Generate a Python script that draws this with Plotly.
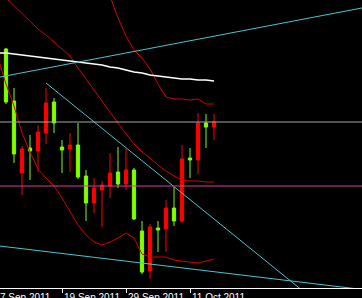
import numpy as np
import plotly.graph_objects as go

# ---- data (price scale is arbitrary) ----
dates = ["7 Sep", "8 Sep", "9 Sep", "12 Sep", "13 Sep", "14 Sep", "15 Sep", "16 Sep",
         "19 Sep", "20 Sep", "21 Sep", "22 Sep", "23 Sep", "26 Sep", "27 Sep", "28 Sep",
         "29 Sep", "30 Sep", "3 Oct", "4 Oct", "5 Oct", "6 Oct", "7 Oct", "10 Oct",
         "11 Oct", "12 Oct", "13 Oct", "14 Oct"]
opens = [1330, 1351, 1299, 1227, 1252, 1249, 1267, 1298, 1253, 1251, 1255, 1224, 1197, 1210,
         1214, 1228, 1216, 1230, 1169, 1129, 1172, 1171, 1192, 1179, 1242, 1240, 1277, 1273]
highs = [1354, 1352, 1312, 1254, 1265, 1275, 1312, 1302, 1260, 1267, 1277, 1230, 1222, 1219,
         1247, 1253, 1251, 1232, 1179, 1176, 1179, 1200, 1213, 1255, 1252, 1287, 1286, 1286]
lows = [1326, 1296, 1237, 1205, 1220, 1228, 1256, 1267, 1227, 1228, 1221, 1179, 1187, 1173,
        1202, 1212, 1210, 1180, 1126, 1121, 1148, 1148, 1174, 1177, 1222, 1226, 1252, 1260]
closes = [1350, 1298, 1246, 1251, 1249, 1268, 1297, 1277, 1250, 1255, 1223, 1197, 1212, 1215,
          1227, 1216, 1230, 1181, 1128, 1173, 1170, 1192, 1179, 1241, 1240, 1277, 1273, 1278]

bb_mid = [1410, 1402, 1394, 1386, 1378, 1371, 1365, 1358, 1351, 1344, 1332, 1321, 1309, 1298,
          1287, 1276, 1266, 1256, 1248, 1242, 1235, 1229, 1224, 1220, 1219, 1219, 1218, 1218]
bb_low = [1342, 1316, 1294, 1267, 1248, 1231, 1222, 1214, 1202, 1188, 1175, 1165, 1158, 1155,
          1158, 1162, 1167, 1162, 1146, 1143, 1143, 1143, 1140, 1139, 1138, 1137, 1139, 1141]
bb_up_start = 12
bb_up = [1440, 1422, 1404, 1382, 1364, 1350, 1342, 1331, 1316, 1303, 1301, 1301, 1300, 1301,
         1296, 1296]
ma_long = [1347, 1347, 1346, 1345, 1344, 1343, 1342, 1341, 1340, 1339, 1338, 1337, 1336, 1335,
           1333, 1332, 1330, 1328, 1327, 1325, 1324, 1323, 1322, 1321, 1321, 1320, 1320, 1319]

# trendline anchors: (bar index, price)
trend_rise = ([0, 27], [1322.6, 1363.8])
trend_fall = ([6, 27], [1317.0, 1181.0])
trend_low = ([0, 27], [1154.2, 1128.3])
hline_gray = 1278
hline_pink = 1214

tick_idx = [0, 8, 16, 24]
tick_labels = ["7 Sep 2011", "19 Sep 2011", "29 Sep 2011", "11 Oct 2011"]

# ---- figure ----
idx = list(range(len(dates)))
X_MIN, X_MAX = 0.25, 45.5

fig = go.Figure()
fig.add_trace(go.Candlestick(
    x=idx, open=opens, high=highs, low=lows, close=closes,
    increasing=dict(line=dict(color="#ff0000", width=1), fillcolor="#ff0000"),
    decreasing=dict(line=dict(color="#7fff00", width=1), fillcolor="#7fff00"),
    whiskerwidth=0, showlegend=False, hoverinfo="skip"))

band_color = "#d40000"
fig.add_trace(go.Scatter(x=idx, y=bb_mid, mode="lines",
                         line=dict(color=band_color, width=1), showlegend=False, hoverinfo="skip"))
fig.add_trace(go.Scatter(x=idx, y=bb_low, mode="lines",
                         line=dict(color=band_color, width=1), showlegend=False, hoverinfo="skip"))
fig.add_trace(go.Scatter(x=idx[bb_up_start:], y=bb_up, mode="lines",
                         line=dict(color=band_color, width=1), showlegend=False, hoverinfo="skip"))
fig.add_trace(go.Scatter(x=idx, y=ma_long, mode="lines",
                         line=dict(color="#ffffff", width=1.3), showlegend=False, hoverinfo="skip"))


def extend(anchor, x0, x1):
    (xa, xb), (ya, yb) = anchor
    k = (yb - ya) / (xb - xa)
    xs = np.array([x0, x1], dtype=float)
    return xs, ya + k * (xs - xa)


cyan = "#46c6cc"
for anchor, start in [(trend_rise, -1), (trend_fall, trend_fall[0][0]), (trend_low, -1)]:
    xs, ys = extend(anchor, start, 47)
    fig.add_trace(go.Scatter(x=xs, y=ys, mode="lines", line=dict(color=cyan, width=1),
                             showlegend=False, hoverinfo="skip"))

fig.add_shape(type="line", xref="paper", x0=0, x1=1, yref="y", y0=hline_gray, y1=hline_gray,
              line=dict(color="#a8a8a8", width=1), layer="above")
fig.add_shape(type="line", xref="paper", x0=0, x1=1, yref="y", y0=hline_pink, y1=hline_pink,
              line=dict(color="#d23c9c", width=1), layer="above")

# date labels sit to the right of their tick marks (placed in paper coords so the
# first one, whose tick is just off the left edge, is still drawn)
for ti, tl in zip(tick_idx, tick_labels):
    xp = (ti - X_MIN) / (X_MAX - X_MIN)
    fig.add_annotation(x=xp, xref="paper", y=0, yref="paper", text=tl, showarrow=False,
                       xanchor="left", yanchor="top", xshift=0, yshift=-2,
                       font=dict(family="Liberation Sans, Arial, sans-serif", size=10,
                                 color="#ffffff"))

fig.update_layout(
    width=362, height=298, template="none",
    margin=dict(l=0, r=0, t=0, b=10),
    paper_bgcolor="#000000", plot_bgcolor="#000000",
    boxgap=0.42,
    xaxis=dict(range=[X_MIN, X_MAX], showgrid=False, zeroline=False, showline=True,
               linecolor="#ffffff", linewidth=1, ticks="outside", ticklen=4, tickcolor="#ffffff",
               tickwidth=1, tickvals=tick_idx, showticklabels=False, automargin=False,
               rangeslider=dict(visible=False), fixedrange=True),
    yaxis=dict(range=[1112, 1400], visible=False, showgrid=False, zeroline=False,
               automargin=False, fixedrange=True),
    showlegend=False,
)

fig.write_html("out.html")
